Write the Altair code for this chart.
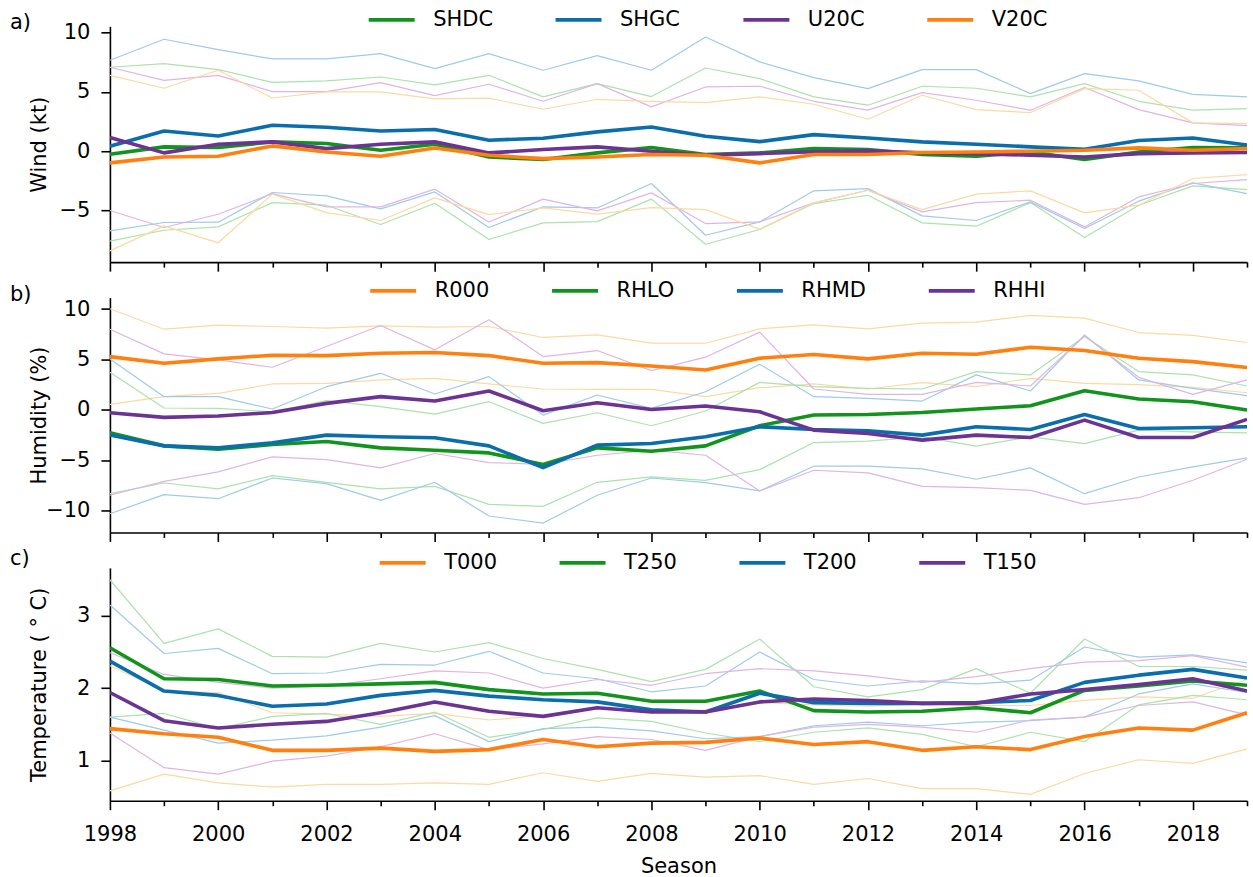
import altair as alt
import pandas as pd

years = list(range(1998, 2020))

# ---------------- a) wind ----------------
wind_names = ["SHDC", "SHGC", "U20C", "V20C"]
SHDC_mean = [-0.25, 0.37, 0.31, 0.79, 0.65, 0.08, 0.59, -0.48, -0.70, -0.14, 0.31,
             -0.28, -0.14, 0.22, 0.14, -0.28, -0.42, -0.06, -0.70, -0.06, 0.31, 0.28]
SHDC_hi = [7.08, 7.39, 6.88, 5.81, 5.93, 6.26, 5.59, 6.40, 4.58, 5.70, 4.61,
           7.02, 6.12, 4.58, 3.88, 5.48, 5.31, 4.58, 5.70, 4.21, 3.46, 3.60]
SHDC_lo = [-7.58, -6.66, -6.38, -4.33, -4.55, -6.18, -4.38, -7.44, -6.04, -5.93, -4.04,
           -7.84, -6.60, -4.41, -3.71, -6.04, -6.32, -4.33, -7.28, -4.55, -2.92, -3.23]
SHGC_mean = [0.42, 1.71, 1.29, 2.19, 2.02, 1.71, 1.83, 0.93, 1.10, 1.63, 2.05,
             1.26, 0.81, 1.40, 1.12, 0.79, 0.59, 0.37, 0.17, 0.90, 1.12, 0.53]
SHGC_hi = [7.67, 9.44, 8.57, 7.78, 7.78, 8.23, 6.97, 8.23, 6.83, 8.06, 6.83,
           9.63, 7.53, 6.21, 5.28, 6.88, 6.88, 4.86, 6.54, 5.93, 4.80, 4.58]
SHGC_lo = [-6.71, -6.01, -5.98, -3.48, -3.76, -4.86, -3.43, -6.43, -4.69, -4.78, -2.72,
           -7.08, -5.96, -3.34, -3.15, -5.45, -5.84, -4.27, -6.52, -4.21, -2.67, -3.57]
U20C_mean = [1.15, -0.14, 0.59, 0.79, 0.22, 0.59, 0.79, -0.14, 0.14, 0.37, 0.0,
             -0.34, -0.20, -0.05, 0.03, -0.14, -0.20, -0.34, -0.48, -0.20, -0.14, -0.11]
U20C_hi = [7.08, 5.98, 6.40, 5.03, 5.03, 5.79, 4.69, 5.65, 4.21, 5.70, 3.74,
           5.42, 5.48, 4.21, 3.46, 4.94, 4.30, 3.46, 5.37, 3.51, 2.39, 2.16]
U20C_lo = [-5.00, -6.43, -5.31, -3.57, -4.69, -4.69, -3.20, -5.96, -4.04, -5.03, -3.51,
           -6.10, -5.96, -4.35, -3.29, -5.11, -4.33, -4.13, -6.38, -3.85, -2.72, -2.39]
V20C_mean = [-0.98, -0.48, -0.42, 0.45, -0.06, -0.42, 0.28, -0.34, -0.62, -0.48, -0.28,
             -0.34, -0.98, -0.28, -0.28, -0.11, -0.06, 0.0, 0.08, 0.28, 0.08, 0.22]
V20C_hi = [6.40, 5.31, 6.83, 4.49, 5.00, 5.00, 4.41, 4.47, 3.54, 4.38, 4.21,
           4.10, 4.58, 3.96, 2.70, 4.72, 3.51, 3.26, 5.28, 5.14, 2.39, 2.33]
V20C_lo = [-8.40, -6.29, -7.72, -3.62, -5.17, -5.84, -3.93, -5.34, -4.78, -5.31, -4.75,
           -4.92, -6.57, -4.35, -3.29, -4.92, -3.62, -3.34, -5.20, -4.55, -2.30, -1.97]

# ---------------- b) humidity ----------------
hum_names = ["R000", "RHLO", "RHMD", "RHHI"]
R000_mean = [5.28, 4.62, 5.05, 5.42, 5.38, 5.61, 5.68, 5.38, 4.62, 4.68, 4.35,
             3.95, 5.12, 5.48, 5.05, 5.61, 5.51, 6.21, 5.88, 5.12, 4.78, 4.19]
R000_hi = [10.03, 8.00, 8.41, 8.27, 8.11, 8.34, 8.21, 8.27, 7.18, 7.44, 6.61,
           6.61, 8.04, 8.44, 8.04, 8.60, 8.70, 9.37, 9.10, 7.67, 7.38, 6.68]
R000_lo = [0.53, 1.30, 1.63, 2.56, 2.62, 2.96, 3.12, 2.56, 2.06, 2.03, 2.03,
           1.30, 2.19, 2.56, 2.06, 2.69, 2.29, 3.12, 2.62, 2.49, 2.23, 1.69]
RHLO_mean = [-2.29, -3.59, -3.92, -3.46, -3.16, -3.79, -4.02, -4.29, -5.45, -3.79, -4.12,
             -3.59, -1.59, -0.53, -0.47, -0.27, 0.07, 0.40, 1.89, 1.06, 0.80, -0.03]
RHLO_hi = [3.72, 0.17, 0.13, -0.20, 0.90, 0.30, -0.43, 0.80, -1.36, -0.30, -1.59,
           -0.13, 2.72, 2.29, 2.13, 2.06, 3.79, 3.46, 7.28, 3.79, 3.46, 2.36]
RHLO_lo = [-8.34, -7.28, -7.87, -6.54, -7.21, -7.87, -7.61, -9.40, -9.60, -7.21, -6.68,
           -7.01, -5.95, -3.26, -3.12, -2.69, -3.62, -2.69, -3.36, -2.03, -2.19, -2.29]
RHMD_mean = [-2.52, -3.59, -3.79, -3.29, -2.52, -2.69, -2.79, -3.59, -5.75, -3.52, -3.36,
             -2.69, -1.69, -1.96, -2.09, -2.52, -1.69, -1.96, -0.47, -1.86, -1.79, -1.69]
RHMD_hi = [5.05, 1.30, 1.30, 0.07, 2.29, 3.62, 1.56, 3.29, -0.53, 1.46, 0.13,
           1.79, 4.52, 1.30, 1.13, 0.86, 3.46, 1.86, 7.44, 2.96, 2.13, 1.40]
RHMD_lo = [-10.33, -8.44, -8.84, -6.78, -7.34, -9.00, -7.21, -10.56, -11.26, -8.50, -6.78,
           -7.24, -8.07, -5.61, -5.61, -5.88, -6.91, -5.78, -8.34, -6.68, -5.68, -4.78]
RHHI_mean = [-0.30, -0.76, -0.63, -0.27, 0.63, 1.30, 0.86, 1.86, -0.10, 0.70, 0.03,
             0.37, -0.20, -2.03, -2.36, -3.02, -2.52, -2.76, -1.03, -2.76, -2.76, -0.96]
RHHI_hi = [8.00, 5.55, 4.95, 4.22, 6.28, 8.37, 5.95, 8.94, 5.28, 5.88, 3.89,
           5.22, 7.71, 2.06, 1.53, 1.53, 2.72, 2.36, 7.34, 3.22, 1.53, 2.96]
RHHI_lo = [-8.50, -7.11, -6.18, -4.68, -4.95, -5.78, -4.35, -5.25, -5.42, -4.52, -4.02,
           -4.52, -8.07, -6.01, -6.28, -7.61, -7.74, -8.01, -9.40, -8.74, -7.01, -4.92]

# ---------------- c) temperature ----------------
temp_names = ["T000", "T250", "T200", "T150"]
T000_mean = [1.44, 1.37, 1.32, 1.14, 1.14, 1.17, 1.125, 1.15, 1.29, 1.19, 1.24,
             1.25, 1.31, 1.22, 1.26, 1.14, 1.19, 1.15, 1.33, 1.45, 1.42, 1.66]
T000_hi = [2.31, 1.96, 1.94, 1.66, 1.64, 1.61, 1.65, 1.56, 1.62, 1.73, 1.66,
           1.70, 1.80, 1.77, 1.75, 1.78, 1.76, 1.76, 1.83, 1.88, 1.86, 2.12]
T000_lo = [0.58, 0.81, 0.69, 0.63, 0.67, 0.67, 0.69, 0.67, 0.83, 0.71, 0.82,
           0.77, 0.79, 0.67, 0.75, 0.61, 0.61, 0.53, 0.82, 1.01, 0.96, 1.16]
T250_mean = [2.56, 2.13, 2.12, 2.03, 2.04, 2.06, 2.08, 1.98, 1.92, 1.93, 1.82,
             1.82, 1.96, 1.69, 1.67, 1.68, 1.73, 1.66, 1.97, 2.03, 2.10, 2.04]
T250_hi = [3.50, 2.62, 2.82, 2.44, 2.43, 2.62, 2.50, 2.63, 2.41, 2.26, 2.09,
           2.26, 2.68, 2.02, 1.88, 1.98, 2.27, 1.93, 2.68, 2.30, 2.30, 2.25]
T250_lo = [1.60, 1.65, 1.44, 1.61, 1.65, 1.50, 1.67, 1.32, 1.43, 1.59, 1.54,
           1.38, 1.26, 1.39, 1.45, 1.36, 1.19, 1.39, 1.26, 1.77, 1.90, 1.84]
T200_mean = [2.375, 1.96, 1.90, 1.75, 1.78, 1.90, 1.97, 1.89, 1.84, 1.81, 1.70,
             1.67, 1.93, 1.80, 1.79, 1.79, 1.80, 1.83, 2.08, 2.18, 2.26, 2.14]
T200_hi = [3.15, 2.48, 2.55, 2.20, 2.21, 2.33, 2.32, 2.51, 2.21, 2.13, 1.95,
           2.03, 2.50, 2.12, 2.03, 2.10, 2.06, 2.11, 2.57, 2.43, 2.46, 2.35]
T200_lo = [1.60, 1.42, 1.24, 1.28, 1.34, 1.46, 1.62, 1.26, 1.44, 1.46, 1.41,
           1.30, 1.33, 1.48, 1.53, 1.48, 1.53, 1.55, 1.60, 1.92, 2.06, 1.94]
T150_mean = [1.94, 1.55, 1.45, 1.50, 1.54, 1.66, 1.81, 1.68, 1.61, 1.73, 1.67,
             1.67, 1.81, 1.85, 1.83, 1.79, 1.79, 1.92, 1.98, 2.05, 2.13, 1.96]
T150_hi = [2.49, 2.19, 2.08, 2.00, 2.03, 2.13, 2.24, 2.21, 2.00, 2.12, 2.04,
           2.20, 2.27, 2.24, 2.17, 2.08, 2.16, 2.27, 2.36, 2.38, 2.45, 2.29]
T150_lo = [1.38, 0.90, 0.81, 0.99, 1.06, 1.19, 1.37, 1.15, 1.23, 1.33, 1.29,
           1.14, 1.33, 1.46, 1.50, 1.46, 1.39, 1.56, 1.60, 1.76, 1.81, 1.63]

# colours: (thick mean line, thin bound lines)
GREEN = ("#11941b", "#abe3ab")
BLUE = ("#0a6ead", "#9fcbe8")
PURPLE = ("#6b3394", "#dfb5e3")
ORANGE = ("#ff7f0f", "#fdd9a2")

FONT = "DejaVu Sans"
FS = 21
PLOT_W = 1138

x_tick_size = {"condition": {"test": "datum.value % 2 === 0", "value": 9}, "value": 5}


def panel(names, means, his, los, colours, ydom, yvals, ytitle, letter, letter_dy,
          legend_x, legend_y, height, bottom):
    rows = []
    for n, m, h, l, c in zip(names, means, his, los, colours):
        for stat, vals in (("mean", m), ("upper", h), ("lower", l)):
            for yr, v in zip(years, vals):
                rows.append({"Season": yr, "series": n, "stat": stat,
                             "value": v, "light": c[1]})
    df = pd.DataFrame(rows)

    if bottom:
        x_axis = alt.Axis(values=years, format="d", tickSize=x_tick_size,
                          labelExpr="datum.value % 2 === 0 ? datum.label : ''",
                          labelFlush=False, labelOverlap=False, labelPadding=14,
                          title="Season", titleX=PLOT_W / 2, titleY=72,
                          titleBaseline="alphabetic", titleAlign="center")
    else:
        x_axis = alt.Axis(values=years, tickSize=x_tick_size, labels=False, title=None)

    y_axis = alt.Axis(values=yvals, tickSize=9, labelPadding=11, labelFlush=False,
                      title=ytitle, titleX=-60, titleY=height / 2, titleAngle=270,
                      titleAlign="center", titleBaseline="bottom")

    x = alt.X("Season:Q", scale=alt.Scale(domain=[1998, 2019], nice=False, zero=False),
              axis=x_axis)
    y = alt.Y("value:Q", scale=alt.Scale(domain=ydom, nice=False, zero=False), axis=y_axis)

    legend = alt.Legend(title=None, orient="none", legendX=legend_x, legendY=legend_y,
                        direction="horizontal", symbolType="M-2,0H2", symbolSize=529,
                        symbolStrokeWidth=3.6, labelFont=FONT, labelFontSize=FS,
                        labelColor="black", labelOffset=28, columnPadding=55, padding=0)

    base = alt.Chart(df)
    bounds = base.transform_filter("datum.stat !== 'mean'").mark_line(
        strokeWidth=1.2, clip=True, strokeJoin="round"
    ).encode(x=x, y=y, color=alt.Color("light:N", scale=None),
             detail=["series:N", "stat:N"])

    layers = [bounds]
    for n in names:
        layers.append(
            base.transform_filter(f"datum.stat === 'mean' && datum.series === '{n}'")
            .mark_line(strokeWidth=3.6, clip=True, strokeJoin="round")
            .encode(x=x, y=y,
                    color=alt.Color("series:N",
                                    scale=alt.Scale(domain=names,
                                                    range=[c[0] for c in colours]),
                                    legend=legend))
        )

    # panel letter, placed in the left margin next to the top of the plot
    tag = alt.Chart(pd.DataFrame({"tag": [letter]})).mark_text(
        font=FONT, fontSize=FS, color="black", align="left", baseline="alphabetic"
    ).encode(text="tag:N", x=alt.value(-100), y=alt.value(letter_dy))
    layers.append(tag)

    return alt.layer(*layers).properties(width=PLOT_W, height=height)


pa = panel(wind_names,
           [SHDC_mean, SHGC_mean, U20C_mean, V20C_mean],
           [SHDC_hi, SHGC_hi, U20C_hi, V20C_hi],
           [SHDC_lo, SHGC_lo, U20C_lo, V20C_lo],
           [GREEN, BLUE, PURPLE, ORANGE],
           [-9.35, 10.53], [-5, 0, 5, 10], "Wind (kt)", "a)", 3,
           268.5, -20.2, 236, False)

pb = panel(hum_names,
           [R000_mean, RHLO_mean, RHMD_mean, RHHI_mean],
           [R000_hi, RHLO_hi, RHMD_hi, RHHI_hi],
           [R000_lo, RHLO_lo, RHMD_lo, RHHI_lo],
           [ORANGE, GREEN, BLUE, PURPLE],
           [-12.19, 11.14], [-10, -5, 0, 5, 10], "Humidity (%)", "b)", 3.5,
           270, -20.5, 235, False)

pc = panel(temp_names,
           [T000_mean, T250_mean, T200_mean, T150_mean],
           [T000_hi, T250_hi, T200_hi, T150_hi],
           [T000_lo, T250_lo, T200_lo, T150_lo],
           [ORANGE, GREEN, BLUE, PURPLE],
           [0.443, 3.664], [1, 2, 3], "Temperature ( \u00b0 C)", "c)", -3,
           279.5, -18.8, 233, True)

chart = (
    alt.vconcat(pa, pb, pc, spacing=35.5, bounds="flush")
    .resolve_scale(color="independent")
    .resolve_legend(color="independent")
    .properties(padding={"left": 10, "top": 5, "right": 5, "bottom": 0},
                background="white")
    .configure_view(stroke=None)
    .configure_axis(grid=False, domainColor="black", domainWidth=1.6,
                    tickColor="black", tickWidth=1.6, labelFont=FONT,
                    labelFontSize=FS, labelColor="black", titleFont=FONT,
                    titleFontSize=FS, titleFontWeight="normal", titleColor="black")
)

chart.save("out.html", embed_options={"renderer": "svg", "actions": False})
